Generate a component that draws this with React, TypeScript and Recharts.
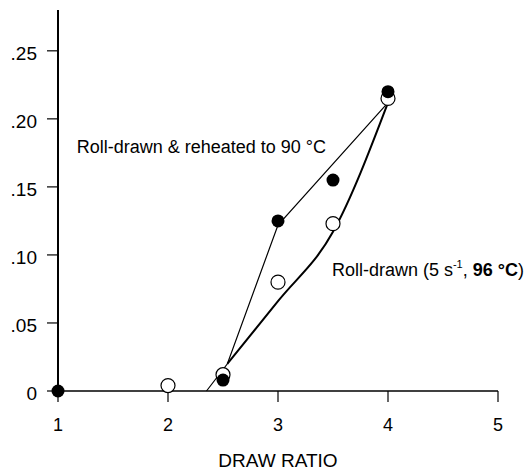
import React from 'react';
import { ComposedChart, Line, Scatter, XAxis, YAxis, ReferenceDot } from 'recharts';

const xTicks = [1, 2, 3, 4, 5];
const yTicks = [0, 0.05, 0.1, 0.15, 0.2, 0.25];

// measured points
const reheatedPoints = [
  { x: 1, y: 0 },
  { x: 2.5, y: 0.008 },
  { x: 3, y: 0.125 },
  { x: 3.5, y: 0.155 },
  { x: 4, y: 0.22 },
];
const rollDrawnPoints = [
  { x: 2, y: 0.004 },
  { x: 2.5, y: 0.012 },
  { x: 3, y: 0.08 },
  { x: 3.5, y: 0.123 },
  { x: 4, y: 0.215 },
];

// hand-drawn fit curves
const reheatedFit = [
  { x: 2.35, y: 0 },
  { x: 2.54, y: 0.02 },
  { x: 3, y: 0.122 },
  { x: 4, y: 0.212 },
];
const rollDrawnFit = [
  { x: 2.54, y: 0.02 },
  { x: 3, y: 0.066 },
  { x: 3.5, y: 0.117 },
  { x: 4, y: 0.212 },
];

const FONT = '"Liberation Sans", Arial, sans-serif';

const fmtY = (v: number) => (v === 0 ? '0' : v.toFixed(2).replace(/^0/, ''));

const FilledDot = (p: any) => <circle cx={p.cx} cy={p.cy} r={6.5} fill="#000" />;
const OpenDot = (p: any) => <circle cx={p.cx} cy={p.cy} r={7} fill="#fff" stroke="#000" strokeWidth={1.2} />;

const labelReheated = (props: any) => {
  const { x, y } = props.viewBox;
  return (
    <text x={x} y={y} dy={6} fontSize={18} fontFamily={FONT} fill="#000">
      Roll-drawn &amp; reheated to 90 °C
    </text>
  );
};

const labelRollDrawn = (props: any) => {
  const { x, y } = props.viewBox;
  return (
    <text x={x} y={y} dy={6} fontSize={18} fontFamily={FONT} fill="#000">
      Roll-drawn (5 s
      <tspan fontSize={11} dy={-8}>-1</tspan>
      <tspan dy={8}>, </tspan>
      <tspan fontWeight="bold">96 °C</tspan>
      )
    </text>
  );
};

export default function App() {
  return (
    <div style={{ position: 'absolute', left: 0, top: 0, background: '#fff' }}>
      <ComposedChart width={527} height={472} margin={{ top: 10, right: 29, left: 0, bottom: 0 }}>
        <XAxis
          type="number"
          dataKey="x"
          domain={[1, 5]}
          ticks={xTicks}
          height={81}
          tickSize={11}
          tickMargin={16}
          axisLine={{ stroke: '#000', strokeWidth: 1.5 }}
          tickLine={{ stroke: '#000', strokeWidth: 1.2 }}
          tick={{ fill: '#000', fontSize: 18, fontFamily: FONT }}
          label={{ value: 'DRAW RATIO', position: 'insideBottom', offset: 5, fill: '#000', fontSize: 19, fontFamily: FONT }}
        />
        <YAxis
          type="number"
          dataKey="y"
          domain={[0, 0.28]}
          ticks={yTicks}
          width={58}
          tickSize={11}
          tickMargin={10}
          tickFormatter={fmtY}
          axisLine={{ stroke: '#000', strokeWidth: 2 }}
          tickLine={{ stroke: '#000', strokeWidth: 1.2 }}
          tick={{ fill: '#000', fontSize: 19, fontFamily: FONT, dy: 2 }}
        />
        <Line data={reheatedFit} dataKey="y" type="linear" stroke="#000" strokeWidth={1.2} dot={false} activeDot={false} isAnimationActive={false} />
        <Line data={rollDrawnFit} dataKey="y" type="monotone" stroke="#000" strokeWidth={2} dot={false} activeDot={false} isAnimationActive={false} />
        <Scatter data={rollDrawnPoints} dataKey="y" shape={OpenDot} isAnimationActive={false} />
        <Scatter data={reheatedPoints} dataKey="y" shape={FilledDot} isAnimationActive={false} />
        <ReferenceDot x={1.17} y={0.179} r={0} stroke="none" ifOverflow="visible" label={labelReheated} />
        <ReferenceDot x={3.49} y={0.089} r={0} stroke="none" ifOverflow="visible" label={labelRollDrawn} />
      </ComposedChart>
    </div>
  );
}
